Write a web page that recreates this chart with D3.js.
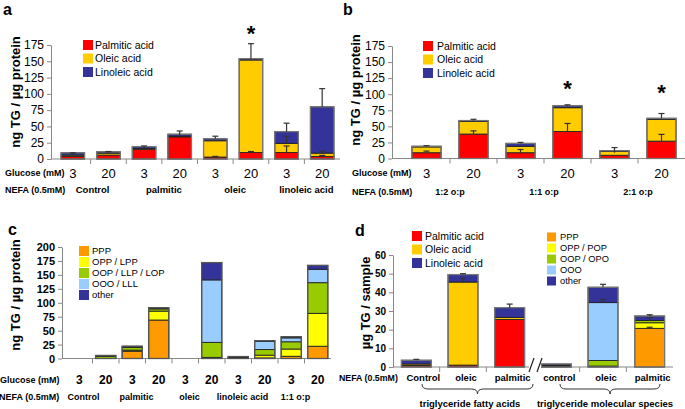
<!DOCTYPE html>
<html>
<head>
<meta charset="utf-8">
<script src="https://cdn.jsdelivr.net/npm/d3@7"></script>
<style>
  body { margin: 0; background: #fff; }
</style>
</head>
<body>
<script>
// ---- panel a : fatty acids, glucose x NEFA ----
const aGlucose = ["3", "20", "3", "20", "3", "20", "3", "20"];
const aNefa = ["Control", "palmitic", "oleic", "linoleic acid"];
const aPalmitic = [4, 6, 15, 34, 3, 10, 10, 4];
const aOleic = [2, 3, 1, 1, 25, 142, 14, 5];
const aLinoleic = [3.5, 2, 3, 3, 3, 2, 18, 71];
// [bar, from, to]
const aErrors = [[0, 7, 9.5], [1, 9, 11.5], [2, 17, 20], [3, 36, 43], [4, 3, 4], [4, 31, 35],
                 [5, 10, 11.5], [5, 154, 177], [6, 10, 20], [6, 24, 35], [6, 42, 55],
                 [7, 4, 5.5], [7, 9, 12], [7, 80, 108]];
const aStars = [5];

// ---- panel b : oleic:palmitic mixtures ----
const bGlucose = ["3", "20", "3", "20", "3", "20"];
const bNefa = ["1:2 o:p", "1:1 o:p", "2:1 o:p"];
const bPalmitic = [9, 38, 9, 42, 5, 27];
const bOleic = [9, 19.5, 10, 37, 6, 34];
const bLinoleic = [1, 1.5, 4.5, 3, 1, 1.5];
const bErrors = [[0, 9, 11.5], [0, 19, 20], [1, 38, 43], [1, 59, 61], [2, 9, 14], [2, 23.5, 25],
                 [3, 42, 54.5], [3, 82, 83.5], [4, 9, 17], [5, 27, 37.5], [5, 62.5, 70]];
const bStars = [3, 5];

// ---- panel c : TG molecular species ----
const cGlucose = ["3", "20", "3", "20", "3", "20", "3", "20", "3", "20"];
const cNefa = ["Control", "palmitic", "oleic", "linoleic acid", "1:1 o:p"];
const cPPP = [0, 0, 13, 69, 0, 0, 0.5, 1, 4, 22];
const cOPP = [0, 0, 2, 16, 0, 2, 1, 5, 13, 59];
const cOOP = [0, 4, 5, 4, 0, 27, 1, 10, 13, 55];
const cOOO = [0, 0, 0, 0, 0, 112, 0, 15, 7, 24];
const cOther = [0, 1.5, 2, 2, 0, 31, 1, 1, 2, 7];

// ---- panel d : per sample ----
const dCats = ["Control", "oleic", "palmitic", "control", "oleic", "palmitic"];
const dGroups = ["triglyceride fatty acids", "triglyceride molecular species"];
const dPalmitic = [0.8, 1, 25.5];
const dOleic = [0.8, 44.5, 1];
const dLinoleic = [2, 4, 5.3];
const dPPP = [0.2, 0, 20.7];
const dOPP = [0.4, 0.5, 3];
const dOOP = [0.4, 3, 1.2];
const dOOO = [0, 31, 0];
const dOther = [0.6, 8.2, 2.4];
const dErrors = [[0, 3.6, 4.1], [1, 45.3, 47.5], [1, 49.5, 50], [2, 31.8, 33.7],
                 [4, 34.5, 36.2], [4, 42.7, 44.3], [5, 20.7, 21.3], [5, 24.8, 26.5], [5, 27.3, 28]];

const RED = "#ff0000", GOLD = "#ffcc00", NAVY = "#333399";
const ORANGE = "#ff9900", YELLOW = "#ffff00", GREEN = "#99cc00", SKY = "#99ccff";
const FONT = "Liberation Sans, Arial, sans-serif";

const svg = d3.select("body").append("svg")
    .attr("width", 685).attr("height", 409)
    .style("font-family", FONT);

function drawPanel(cfg) {
    const g = svg.append("g");
    const x = d3.scaleBand().domain(d3.range(cfg.n)).range(cfg.xRange)
        .paddingInner(cfg.pad).paddingOuter(cfg.pad / 2);
    const y = d3.scaleLinear().domain(cfg.yDomain).range(cfg.yRange);

    // y axis
    const yAxis = g.append("g")
        .attr("transform", `translate(${cfg.yAxisX},0)`)
        .call(d3.axisLeft(y).tickValues(cfg.yTicks).tickSize(4).tickPadding(3).tickSizeOuter(0));
    yAxis.select(".domain").attr("stroke", "#888");
    yAxis.selectAll(".tick line").attr("stroke", "#888");
    yAxis.selectAll("text")
        .style("font-family", FONT)
        .style("font-size", cfg.tickFont + "px")
        .style("font-weight", cfg.tickWeight)
        .attr("fill", "#000");

    // x axis line + boundary ticks
    g.append("line")
        .attr("x1", cfg.yAxisX).attr("x2", cfg.xRange[1])
        .attr("y1", y(0)).attr("y2", y(0))
        .attr("stroke", "#888");
    const skip = cfg.skipTicks || [];
    const bounds = d3.range(1, cfg.n).filter(k => !skip.includes(k));
    g.selectAll(".xtick").data(bounds).join("line")
        .attr("class", "xtick")
        .attr("x1", k => x(k) - x.step() * x.paddingInner() / 2)
        .attr("x2", k => x(k) - x.step() * x.paddingInner() / 2)
        .attr("y1", y(0)).attr("y2", y(0) + 5)
        .attr("stroke", "#888");

    // stacked bars
    cfg.stacks.forEach(function (s) {
        const rows = s.bars.map(function (b, i) {
            const r = { bar: b };
            s.keys.forEach((k, j) => r[k] = s.series[j][i]);
            return r;
        });
        const layers = d3.stack().keys(s.keys)(rows);
        g.append("g").selectAll("g").data(layers).join("g")
            .attr("fill", (d, i) => s.colors[i])
            .selectAll("rect").data(d => d).join("rect")
            .attr("x", d => x(d.data.bar))
            .attr("width", x.bandwidth())
            .attr("y", d => y(d[1]))
            .attr("height", d => y(d[0]) - y(d[1]))
            .attr("stroke", "#222")
            .attr("stroke-width", 0.9);

        g.append("g").selectAll("rect").data(rows).join("rect")
            .attr("x", d => x(d.bar))
            .attr("width", x.bandwidth())
            .attr("y", d => y(d3.sum(s.keys, k => d[k])))
            .attr("height", d => y(0) - y(d3.sum(s.keys, k => d[k])))
            .attr("fill", "none")
            .attr("stroke", cfg.outline)
            .attr("stroke-width", 1.3);
    });

    // error bars
    const eg = g.append("g").attr("stroke", "#333").attr("stroke-width", 1.2);
    (cfg.errors || []).forEach(function (e) {
        const cx = x(e[0]) + x.bandwidth() / 2;
        eg.append("line").attr("x1", cx).attr("x2", cx).attr("y1", y(e[1])).attr("y2", y(e[2]));
        eg.append("line").attr("x1", cx - 3).attr("x2", cx + 3).attr("y1", y(e[2])).attr("y2", y(e[2]));
    });

    return { g: g, x: x, y: y };
}

function legend(x0, y0, step, size, labels, colors, fontSize, textX) {
    const lg = svg.append("g");
    labels.forEach(function (l, i) {
        lg.append("rect")
            .attr("x", x0).attr("y", y0 + i * step - size / 2)
            .attr("width", size).attr("height", size)
            .attr("fill", colors[i]);
        lg.append("text")
            .attr("x", textX).attr("y", y0 + i * step)
            .attr("dy", "0.35em")
            .style("font-size", fontSize + "px")
            .text(l);
    });
}

function label(x, y, txt, size, weight, anchor) {
    return svg.append("text")
        .attr("x", x).attr("y", y)
        .attr("dy", "0.35em")
        .attr("text-anchor", anchor || "middle")
        .style("font-size", size + "px")
        .style("font-weight", weight || "normal")
        .text(txt);
}

function yTitle(x, y, txt) {
    svg.append("text")
        .attr("transform", `translate(${x},${y}) rotate(-90)`)
        .attr("text-anchor", "middle")
        .attr("dy", "0.35em")
        .style("font-size", "13px")
        .style("font-weight", "bold")
        .text(txt);
}

// ================= panel a =================
const pa = drawPanel({
    n: 8, xRange: [55, 340], pad: 0.34, yAxisX: 51,
    yDomain: [0, 175], yRange: [159, 45], yTicks: d3.range(0, 176, 25),
    tickFont: 12, tickWeight: "normal", outline: "#777",
    stacks: [{ bars: d3.range(8), keys: ["P", "O", "L"], series: [aPalmitic, aOleic, aLinoleic], colors: [RED, GOLD, NAVY] }],
    errors: aErrors
});
aGlucose.forEach((t, i) => label(pa.x(i) + pa.x.bandwidth() / 2, 173, t, 13));
aNefa.forEach((t, i) => label(pa.x(2 * i + 1) - pa.x.step() * 0.17 + 2, 190, t, 9.5, "bold"));
label(5, 173, "Glucose (mM)", 9, "bold", "start");
label(5, 190, "NEFA (0.5mM)", 9, "bold", "start");
aStars.forEach(i => label(pa.x(i) + pa.x.bandwidth() / 2, 33, "*", 22, "bold"));
legend(83, 45, 13.5, 10, ["Palmitic acid", "Oleic acid", "Linoleic acid"], [RED, GOLD, NAVY], 10.5, 95);
yTitle(15, 92, "ng TG / µg protein");
label(3, 9, "a", 16, "bold", "start");

// ================= panel b =================
const pb = drawPanel({
    n: 6, xRange: [403, 685], pad: 0.38, yAxisX: 392,
    yDomain: [0, 175], yRange: [158.5, 46], yTicks: d3.range(0, 176, 25),
    tickFont: 12, tickWeight: "normal", outline: "#777",
    stacks: [{ bars: d3.range(6), keys: ["P", "O", "L"], series: [bPalmitic, bOleic, bLinoleic], colors: [RED, GOLD, NAVY] }],
    errors: bErrors
});
bGlucose.forEach((t, i) => label(pb.x(i) + pb.x.bandwidth() / 2, 173, t, 13));
bNefa.forEach((t, i) => label(pb.x(2 * i + 1) - pb.x.step() * 0.19, 192, t, 9, "bold"));
label(352, 173, "Glucose (mM)", 9, "bold", "start");
label(352, 192, "NEFA (0.5mM)", 9, "bold", "start");
bStars.forEach((i, k) => label(pb.x(i) + pb.x.bandwidth() / 2, 88 + 4 * k, "*", 22, "bold"));
legend(423, 46, 13.5, 10, ["Palmitic acid", "Oleic acid", "Linoleic acid"], [RED, GOLD, NAVY], 10.5, 437);
yTitle(355, 90, "ng TG / µg protein");
label(343, 9, "b", 16, "bold", "start");

// ================= panel c =================
const pc = drawPanel({
    n: 10, xRange: [66, 331], pad: 0.24, yAxisX: 62,
    yDomain: [0, 200], yRange: [358.5, 247], yTicks: d3.range(0, 201, 25),
    tickFont: 11, tickWeight: "bold", outline: "#555",
    stacks: [{ bars: d3.range(10), keys: ["PPP", "OPP", "OOP", "OOO", "other"], series: [cPPP, cOPP, cOOP, cOOO, cOther], colors: [ORANGE, YELLOW, GREEN, SKY, NAVY] }]
});
cGlucose.forEach((t, i) => label(pc.x(i) + pc.x.bandwidth() / 2, 380, t, 12, "bold"));
cNefa.forEach((t, i) => label(pc.x(2 * i + 1) - pc.x.step() / 2 + 1, 397, t, 9, "bold"));
label(0, 380, "Glucose (mM)", 9, "bold", "start");
label(-1, 397, "NEFA (0.5mM)", 9, "bold", "start");
legend(79, 251, 11, 10, ["PPP", "OPP / LPP", "OOP / LLP / LOP", "OOO / LLL", "other"], [ORANGE, YELLOW, GREEN, SKY, NAVY], 9.5, 92);
yTitle(15, 295, "ng TG / µg protein");
label(8, 229, "c", 16, "bold", "start");

// ================= panel d =================
const pd = drawPanel({
    n: 6, xRange: [393, 673], pad: 0.36, yAxisX: 393,
    yDomain: [0, 60], yRange: [367, 255], yTicks: d3.range(0, 61, 10),
    tickFont: 10, tickWeight: "bold", outline: "#777", skipTicks: [3],
    stacks: [
        { bars: [0, 1, 2], keys: ["P", "O", "L"], series: [dPalmitic, dOleic, dLinoleic], colors: [RED, GOLD, NAVY] },
        { bars: [3, 4, 5], keys: ["PPP", "OPP", "OOP", "OOO", "other"], series: [dPPP, dOPP, dOOP, dOOO, dOther], colors: [ORANGE, YELLOW, GREEN, SKY, NAVY] }
    ],
    errors: dErrors
});
dCats.forEach((t, i) => label(pd.x(i) + pd.x.bandwidth() / 2 + (i === 0 ? 7 : 3), 378, t, 9.5, "bold"));
label(339, 378, "NEFA (0.5mM)", 8.8, "bold", "start");

// axis break
const by = pd.y(0);
svg.append("rect").attr("x", 529).attr("y", by - 2).attr("width", 12).attr("height", 4).attr("fill", "#fff");
[529, 537].forEach(function (bx) {
    svg.append("line")
        .attr("x1", bx).attr("y1", by + 5).attr("x2", bx + 5).attr("y2", by - 9)
        .attr("stroke", "#222").attr("stroke-width", 1.2);
});

// braces under the groups
function brace(x1, x2, yTop, h) {
    const mid = (x1 + x2) / 2, r = 6, ym = yTop + h / 2;
    const p = `M${x1},${yTop} Q${x1},${ym} ${x1 + r},${ym} L${mid - r},${ym} Q${mid},${ym} ${mid},${yTop + h}`
        + ` Q${mid},${ym} ${mid + r},${ym} L${x2 - r},${ym} Q${x2},${ym} ${x2},${yTop}`;
    svg.append("path").attr("d", p).attr("fill", "none").attr("stroke", "#333").attr("stroke-width", 1);
}
brace(422, 533, 384, 10);
brace(560, 660, 384, 10);
label(470, 404, dGroups[0], 9.5, "bold");
label(605, 404, dGroups[1], 9.5, "bold");

legend(412, 236, 13.5, 10, ["Palmitic acid", "Oleic acid", "Linoleic acid"], [RED, GOLD, NAVY], 10.5, 425);
legend(547, 237, 11, 9, ["PPP", "OPP / POP", "OOP / OPO", "OOO", "other"], [ORANGE, YELLOW, GREEN, SKY, NAVY], 9.3, 560);
yTitle(365, 303, "µg TG / sample");
label(355, 230, "d", 16, "bold", "start");
</script>
</body>
</html>
